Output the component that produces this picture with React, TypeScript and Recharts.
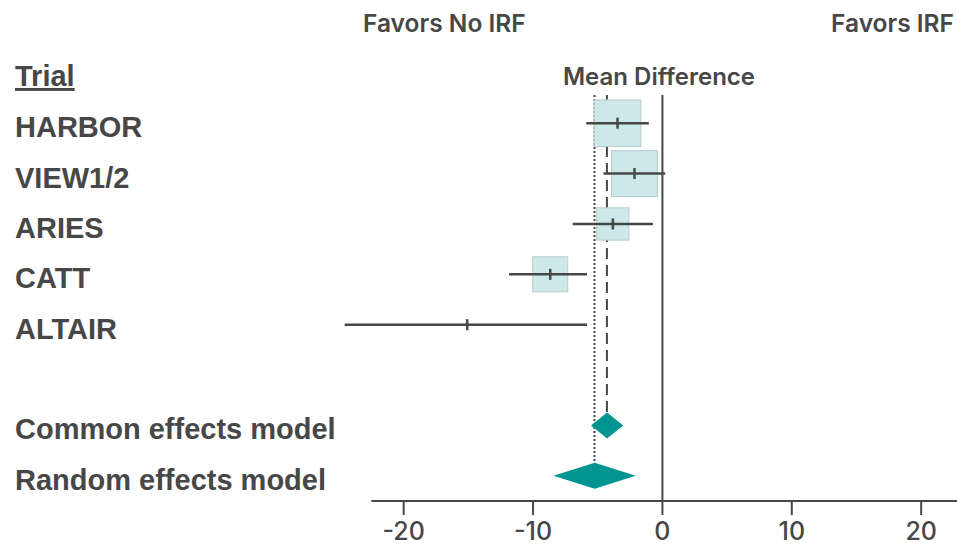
import React from "react";
import { ScatterChart, Scatter, XAxis, YAxis, ReferenceLine, ErrorBar } from "recharts";

const trials = ["HARBOR", "VIEW1/2", "ARIES", "CATT", "ALTAIR"];
const meanDiff = [-3.47, -2.16, -3.83, -8.67, -15.09];
const ciLower = [-5.89, -4.55, -6.94, -11.85, -24.56];
const ciUpper = [-1.05, 0.21, -0.74, -5.83, -5.83];
const weights = [33.2, 32.2, 15.9, 18.7, 0.1]; // % weight, drives box area

const pooledModels = ["Common effects model", "Random effects model"];
const pooledMean = [-4.29, -5.25];
const pooledLower = [-5.52, -8.42];
const pooledUpper = [-3.03, -2.06];

const xTicks = [-20, -10, 0, 10, 20];

const INK = "#474747";
const BOX_FILL = "#cde8e8";
const DIAMOND = "#009490";
const LABEL_FONT = "'Liberation Sans', Arial, sans-serif";
const UI_FONT = "Inter, 'Noto Sans', sans-serif";

// rows: trials, one blank spacer, then pooled estimates
const rowLabels = [...trials, "", ...pooledModels];
const pooledRow = (i: number) => trials.length + 1 + i;
const Y_TOP = -0.56;
const Y_BOTTOM = 7.5;

const trialData = trials.map((name, i) => ({
  name,
  x: meanDiff[i],
  y: i,
  weight: weights[i],
  ci: [meanDiff[i] - ciLower[i], ciUpper[i] - meanDiff[i]],
}));

const BoxShape = (props: any) => {
  const { cx, cy, payload } = props;
  const side = 8.1 * Math.sqrt(payload.weight);
  return (
    <rect
      x={cx - side / 2}
      y={cy - side / 2}
      width={side}
      height={side}
      fill={BOX_FILL}
      stroke="#b8cccc"
      strokeWidth={1}
    />
  );
};

const MeanTick = (props: any) => {
  const { cx, cy } = props;
  return <line x1={cx} x2={cx} y1={cy - 5.5} y2={cy + 5.5} stroke={INK} strokeWidth={2.5} />;
};

const Diamond = (props: any) => {
  const { x1, y1, x2 } = props;
  const xm = (x1 + x2) / 2;
  const h = 13;
  return (
    <polygon
      points={`${x1},${y1} ${xm},${y1 - h} ${x2},${y1} ${xm},${y1 + h}`}
      fill={DIAMOND}
    />
  );
};

const RowLabel = (props: any) => {
  const { y, payload } = props;
  return (
    <text x={15} y={y + 14} fill={INK} fontFamily={LABEL_FONT} fontWeight={700} fontSize={29}>
      {rowLabels[payload.value]}
    </text>
  );
};

const XTick = (props: any) => {
  const { x, y, payload } = props;
  return (
    <text x={x} y={y} dy={23} textAnchor="middle" fill={INK} fontFamily={UI_FONT} fontWeight={500} fontSize={25}>
      {payload.value}
    </text>
  );
};

export default function App() {
  return (
    <div style={{ position: "absolute", left: 0, top: 0, width: 957, height: 546, background: "#fff" }}>
      <ScatterChart width={957} height={546} margin={{ top: 95, right: 3.5, bottom: 0, left: 0 }}>
        <XAxis
          type="number"
          dataKey="x"
          domain={[-25, 22.5]}
          ticks={xTicks}
          axisLine={false}
          tickLine={{ stroke: INK, strokeWidth: 2 }}
          tickSize={14}
          tick={<XTick />}
          height={45}
        />
        <YAxis
          type="number"
          dataKey="y"
          domain={[Y_TOP, Y_BOTTOM]}
          reversed
          ticks={[0, 1, 2, 3, 4, pooledRow(0), pooledRow(1)]}
          axisLine={false}
          tickLine={false}
          tick={<RowLabel />}
          width={339}
        />

        {/* zero line, pooled-estimate guides and axis baseline */}
        <ReferenceLine x={0} stroke={INK} strokeWidth={2} />
        <ReferenceLine
          segment={[{ x: pooledMean[0], y: Y_TOP }, { x: pooledMean[0], y: pooledRow(0) }]}
          stroke={INK}
          strokeWidth={2}
          strokeDasharray="11 6"
        />
        <ReferenceLine
          segment={[{ x: pooledMean[1], y: Y_TOP }, { x: pooledMean[1], y: pooledRow(1) }]}
          stroke={INK}
          strokeWidth={2}
          strokeDasharray="2 2"
        />
        <ReferenceLine
          segment={[{ x: -22.5, y: Y_BOTTOM }, { x: 22.8, y: Y_BOTTOM }]}
          stroke={INK}
          strokeWidth={2}
          ifOverflow="visible"
        />

        <Scatter data={trialData} shape={<BoxShape />} isAnimationActive={false} zIndex={550} />
        <Scatter data={trialData} shape={<MeanTick />} isAnimationActive={false} zIndex={800}>
          <ErrorBar
            dataKey="ci"
            direction="x"
            width={0}
            stroke={INK}
            strokeWidth={2.5}
            isAnimationActive={false}
            zIndex={800}
          />
        </Scatter>

        {pooledModels.map((m, i) => (
          <ReferenceLine
            key={m}
            segment={[{ x: pooledLower[i], y: pooledRow(i) }, { x: pooledUpper[i], y: pooledRow(i) }]}
            shape={(p: any) => <Diamond {...p} />}
          />
        ))}
      </ScatterChart>

      <svg width={957} height={546} style={{ position: "absolute", left: 0, top: 0, pointerEvents: "none" }}>
        <text x={363} y={32} fill={INK} fontFamily={UI_FONT} fontWeight={600} fontSize={24.5}>
          Favors No IRF
        </text>
        <text x={954} y={32} textAnchor="end" fill={INK} fontFamily={UI_FONT} fontWeight={600} fontSize={24.5}>
          Favors IRF
        </text>
        <text x={659} y={85} textAnchor="middle" fill={INK} fontFamily={UI_FONT} fontWeight={600} fontSize={24}>
          Mean Difference
        </text>
        <text x={15} y={86} fill={INK} fontFamily={LABEL_FONT} fontWeight={700} fontSize={29} textDecoration="underline">
          Trial
        </text>
      </svg>
    </div>
  );
}
